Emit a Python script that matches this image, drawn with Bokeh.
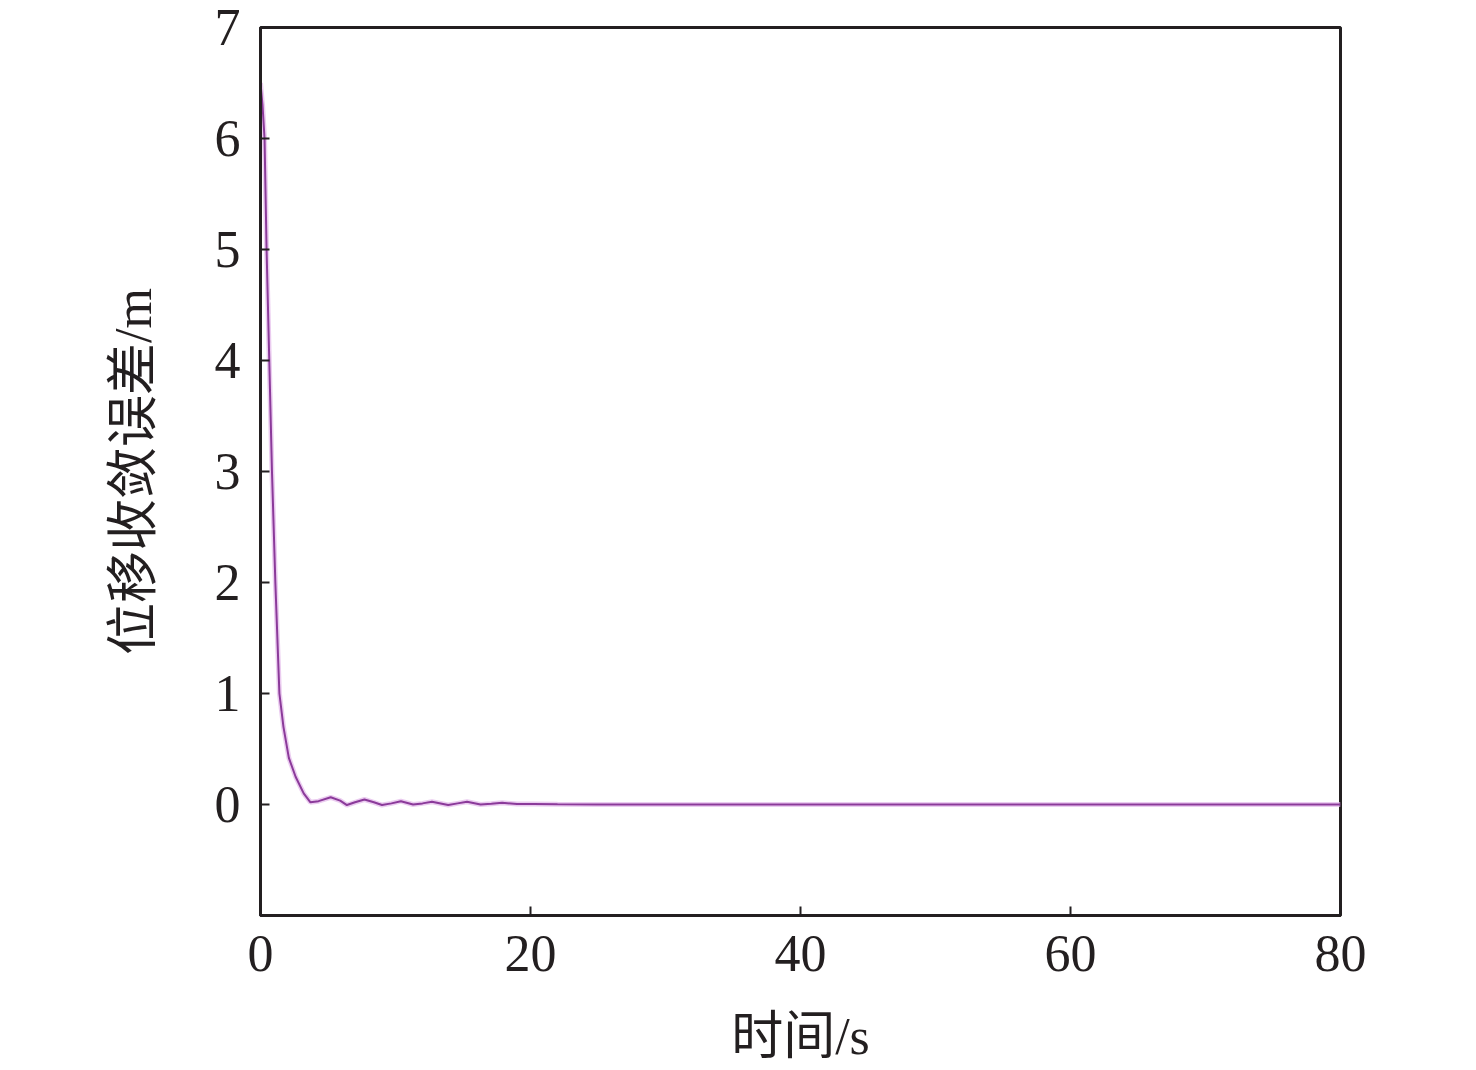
from bokeh.plotting import figure
from bokeh.models import FixedTicker, Range1d
from bokeh.embed import file_html
from bokeh.resources import INLINE

# data
time_s = [0.0, 0.15, 0.3, 0.45, 0.65, 0.85, 1.1, 1.4, 1.7, 2.1, 2.6, 3.2, 3.7, 4.3, 5.2, 5.9,
          6.4, 7.0, 7.7, 8.4, 9.0, 9.7, 10.4, 11.3, 12.0, 12.7, 13.9, 14.6, 15.3, 16.3,
          17.1, 17.9, 19.0, 20.2, 22.0, 25.0, 40.0, 60.0, 80.0]
error_m = [6.5, 6.3, 6.0, 5.0, 4.0, 3.0, 2.0, 1.0, 0.7, 0.42, 0.25, 0.1, 0.02, 0.03, 0.065, 0.035,
           -0.005, 0.02, 0.045, 0.02, -0.005, 0.01, 0.03, 0.0, 0.01, 0.025, -0.005, 0.01, 0.025, 0.0,
           0.007, 0.015, 0.004, 0.005, 0.002, 0.0, 0.0, 0.0, 0.0]
x_ticks = [0, 20, 40, 60, 80]
y_ticks = [0, 1, 2, 3, 4, 5, 6, 7]

FONT = "'Liberation Serif', 'Noto Sans CJK SC', serif"

p = figure(width=1476, height=1070, output_backend="svg", toolbar_location=None,
           x_range=Range1d(0, 80), y_range=Range1d(-1, 7),
           min_border_left=260, min_border_top=27, min_border_right=136, min_border_bottom=155)

p.grid.visible = False
p.outline_line_color = "#231f20"
p.outline_line_width = 3
p.background_fill_color = "white"
p.border_fill_color = "white"

p.line(time_s, error_m, line_color="#e2b6ea", line_width=5, line_alpha=0.7)
p.line(time_s, error_m, line_color="#8b3a9a", line_width=2)

for ax in (p.xaxis[0], p.yaxis[0]):
    ax.axis_line_color = "#231f20"
    ax.axis_line_width = 3
    ax.major_tick_in = 9
    ax.major_tick_out = 0
    ax.major_tick_line_width = 2
    ax.major_tick_line_color = "#231f20"
    ax.minor_tick_line_color = None
    ax.major_label_text_font = FONT
    ax.major_label_text_font_size = "52px"
    ax.major_label_text_color = "#231f20"
    ax.axis_label_text_font = FONT
    ax.axis_label_text_font_size = "52px"
    ax.axis_label_text_font_style = "normal"
    ax.axis_label_text_color = "#231f20"

p.xaxis.ticker = FixedTicker(ticks=x_ticks)
p.yaxis.ticker = FixedTicker(ticks=y_ticks)
p.xaxis.major_label_standoff = 20
p.yaxis.major_label_standoff = 20
p.xaxis.axis_label = "时间/s"
p.yaxis.axis_label = "位移收敛误差/m"
p.xaxis.axis_label_standoff = 34
p.yaxis.axis_label_standoff = 50

open("out.html", "w").write(file_html(p, INLINE))
